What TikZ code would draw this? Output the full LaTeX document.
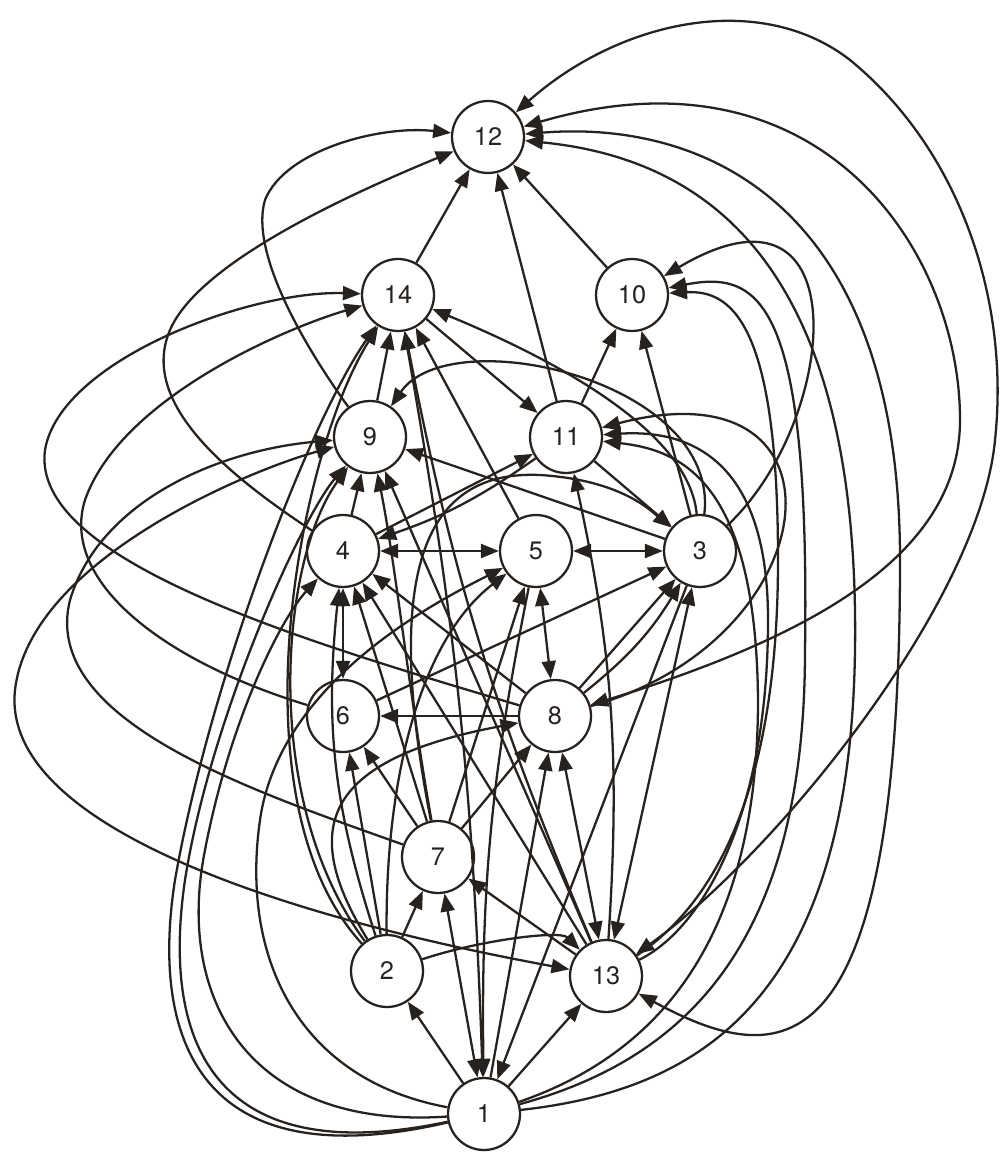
\documentclass[tikz,border=0pt]{standalone}
\usepackage{fontspec}
\setsansfont{TeX Gyre Heros}
\usetikzlibrary{arrows.meta}
\definecolor{inkGrey}{RGB}{40,34,30}
\begin{document}
\begin{tikzpicture}[x=0.02cm,y=-0.02cm,
  vtx/.style={circle,draw=inkGrey,fill=none,line width=1.3pt,minimum size=1.44cm,inner sep=0pt,
              font=\sffamily\Large,text=inkGrey},
  arc/.style={draw=inkGrey,line width=1.3pt,-{Triangle[length=3.6mm,width=2.8mm]}},
  both/.style={draw=inkGrey,line width=1.3pt,{Triangle[length=3.6mm,width=2.8mm]}-{Triangle[length=3.6mm,width=2.8mm]}}]
\useasboundingbox[fill=white] (0,0) rectangle (1006,1168);
\foreach \n/\x/\y in {12/488/137,14/398/295,10/632/295,9/370/437,11/566/437,4/343/551,5/536/551,
  3/700/551,6/343/716,8/555/716,7/438/857,2/387/971,13/606/976,1/484/1114}
  \node[vtx] (n\n) at (\x,\y) {\n};
\foreach \a/\b in {14/12,10/12,11/12,11/10,3/10,9/14,4/9,8/6,1/2,2/7,1/8,1/13,13/7,7/6,2/6,
  11/3,3/9,4/11,5/14,13/9,13/4,7/4,7/5,7/8,6/3,8/4,8/3,3/1,14/11}
  \draw[arc] (n\a) -- (n\b);
\foreach \a/\b in {4/5,5/3,4/6,5/8,8/13,1/7,3/13}
  \draw[both] (n\a) -- (n\b);
\draw[arc] (n11) to[bend left=8] (n4);
\draw[arc] (n13) to[bend right=8] (n11);
\draw[arc] (n13) to[bend left=6] (n14);
\draw[both] (n1) to[bend right=4] (n14);
\draw[arc] (n5) to[bend right=6] (n1);
\draw[arc] (n8) to[bend right=10] (n3);
\draw[arc] (n2) to[bend left=12] (n4);
\draw[arc] (n2) .. controls (260,800) and (280,560) .. (n9);
\draw[arc] (n2) .. controls (230,800) and (300,450) .. (n14);
\draw[arc] (n2) .. controls (385,780) and (420,640) .. (n5);
\draw[arc] (n2) .. controls (300,830) and (320,760) .. (n8);
\draw[arc] (n2) .. controls (480,940) and (560,930) .. (n13);
\draw[arc] (n7) .. controls (410,700) and (395,560) .. (n9);
\draw[arc] (n7) .. controls (380,560) and (430,470) .. (540,475) .. controls (620,480) and (650,510) .. (n3);
\draw[arc] (n7) .. controls (250,790) and (40,720) .. (70,600) .. controls (100,500) and (220,450) .. (n9);
\draw[both] (n12) .. controls (620,20) and (760,-10) .. (850,60) .. controls (960,150) and (1010,300) .. (995,440)
  .. controls (980,600) and (780,850) .. (n13);
\draw[both] (n8) .. controls (800,640) and (960,560) .. (960,420) .. controls (960,250) and (820,40) .. (n12);
\draw[both] (n12) .. controls (700,120) and (900,200) .. (900,560) .. controls (900,1080) and (780,1070) .. (n13);
\draw[arc] (n1) .. controls (700,1090) and (850,1000) .. (855,650) .. controls (860,280) and (720,160) .. (n12);
\draw[arc] (n1) .. controls (680,1060) and (805,950) .. (805,650) .. controls (810,300) and (760,270) .. (n10);
\draw[arc] (n13) .. controls (720,900) and (778,780) .. (778,560) .. controls (778,320) and (730,290) .. (n10);
\draw[arc] (n13) .. controls (700,930) and (768,820) .. (768,620) .. controls (768,450) and (680,430) .. (n11);
\draw[arc] (n1) .. controls (640,1060) and (758,960) .. (758,700) .. controls (756,480) and (680,450) .. (n11);
\draw[arc] (n8) .. controls (830,640) and (860,360) .. (n11);
\draw[arc] (n3) .. controls (840,420) and (860,160) .. (n10);
\draw[arc] (n3) .. controls (720,380) and (450,320) .. (n9);
\draw[arc] (n3) .. controls (690,440) and (580,370) .. (n14);
\draw[arc] (n9) .. controls (300,340) and (250,250) .. (265,200) .. controls (285,150) and (380,125) .. (n12);
\draw[arc] (n4) .. controls (220,470) and (140,400) .. (170,330) .. controls (200,260) and (360,190) .. (n12);
\draw[arc] (n8) .. controls (300,640) and (30,560) .. (45,450) .. controls (60,360) and (250,290) .. (n14);
\draw[arc] (n6) .. controls (160,660) and (60,580) .. (85,500) .. controls (120,400) and (280,330) .. (n14);
\draw[both] (n13) .. controls (300,920) and (0,830) .. (15,690) .. controls (30,560) and (250,470) .. (n9);
\draw[arc] (n1) .. controls (200,1180) and (150,1040) .. (175,880) .. controls (210,680) and (310,420) .. (n14);
\draw[arc] (n1) .. controls (220,1170) and (160,1050) .. (185,880) .. controls (210,720) and (300,520) .. (n9);
\draw[arc] (n1) .. controls (250,1130) and (175,1000) .. (205,850) .. controls (230,720) and (280,620) .. (n4);
\draw[arc] (n1) .. controls (300,1080) and (240,960) .. (260,820) .. controls (280,680) and (440,600) .. (n5);
\end{tikzpicture}
\end{document}
